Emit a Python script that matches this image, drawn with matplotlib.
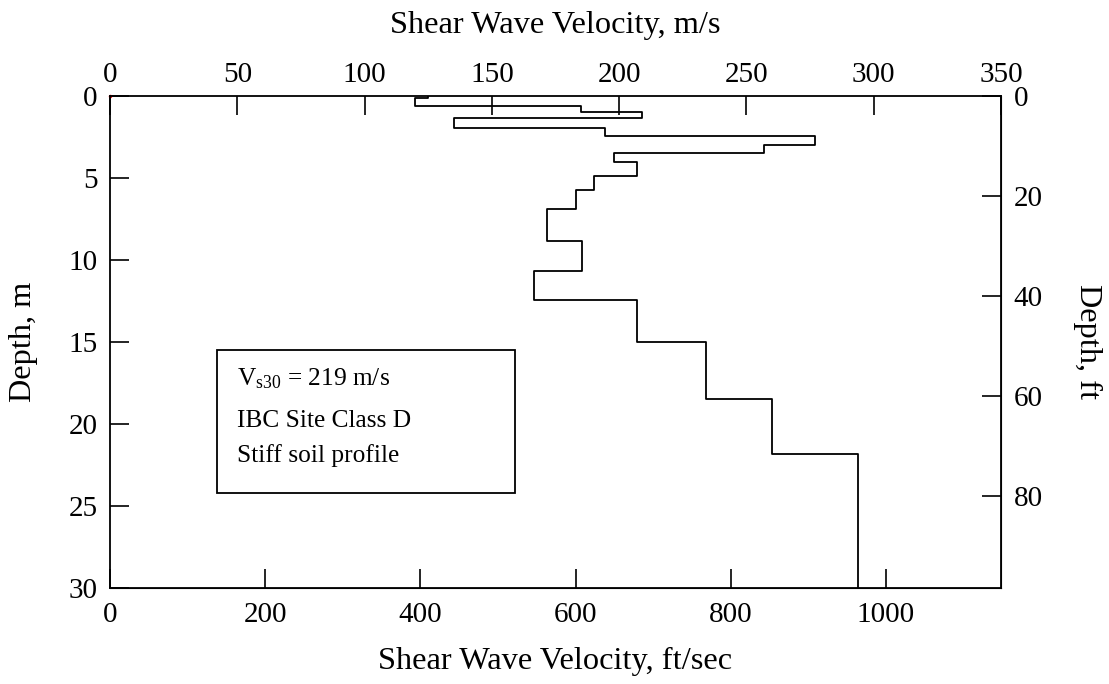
import numpy as np
import matplotlib
matplotlib.use('Agg')
import matplotlib.pyplot as plt
from matplotlib.patches import Rectangle

# layer velocities (m/s) and layer bottom depths (m), read from the profile
vs_ms = [125, 120, 185, 209, 135, 194.5, 277, 257, 198, 207, 190, 183,
         171.5, 185.5, 166.5, 207, 234, 260, 294]
depth_bottom = [0.14, 0.59, 0.95, 1.36, 1.95, 2.44, 2.99, 3.5, 4.03, 4.86,
                5.76, 6.89, 8.84, 10.67, 12.44, 15.0, 18.48, 21.8, 30]

top_ticks = [0, 50, 100, 150, 200, 250, 300, 350]
bottom_ticks = [0, 200, 400, 600, 800, 1000]
left_ticks = [0, 5, 10, 15, 20, 25, 30]
right_ticks = [0, 20, 40, 60, 80]
box_lines = [r'V$_{\rm s30}$ = 219 m/s', 'IBC Site Class D', 'Stiff soil profile']

M2FT = 3.28084

plt.rcParams['font.family'] = ['Liberation Serif', 'DejaVu Serif']
plt.rcParams['mathtext.fontset'] = 'custom'
plt.rcParams['mathtext.rm'] = 'Liberation Serif'
plt.rcParams['mathtext.it'] = 'Liberation Serif:italic'

fig = plt.figure(figsize=(11.09, 6.84), dpi=100)
ax = fig.add_axes([0.0992, 0.1404, 0.8034, 0.7192])

# build the step profile
depth_top = [0] + depth_bottom[:-1]
x = np.repeat(vs_ms, 2)
y = np.ravel(np.column_stack([depth_top, depth_bottom]))
ax.plot(x, y, color='black', lw=1.3)
ax.plot([0], [0], 'o', color='red', ms=1.5, clip_on=False)

ax.set_xlim(0, 350)
ax.set_ylim(30, 0)
ax.xaxis.tick_top()
ax.set_xticks(top_ticks)
ax.set_yticks(left_ticks)
ax.tick_params(direction='in', length=14, width=1.2, labelsize=21)
ax.tick_params(axis='x', pad=6)
ax.tick_params(axis='y', pad=9)
for s in ax.spines.values():
    s.set_linewidth(1.3)

lab_fs = 23.3
ax.set_xlabel('Shear Wave Velocity, m/s', fontsize=lab_fs)
ax.xaxis.set_label_position('top')
ax.xaxis.set_label_coords(0.5, 1.144)
ax.xaxis.label.set_va('center')
ax.set_ylabel('Depth, m', fontsize=lab_fs)
ax.yaxis.set_label_coords(-0.0976, 0.5)
ax.yaxis.label.set_va('center')

# secondary axes in feet
axb = ax.secondary_xaxis('bottom', functions=(lambda v: v * M2FT, lambda v: v / M2FT))
axb.set_xticks(bottom_ticks)
axb.tick_params(direction='in', length=14, width=1.2, labelsize=21, pad=10)
axb.set_xlabel('Shear Wave Velocity, ft/sec', fontsize=lab_fs)
axb.xaxis.set_label_coords(0.5, -0.150, transform=ax.transAxes)
axb.xaxis.label.set_va('center')

axr = ax.secondary_yaxis('right', functions=(lambda d: d * M2FT, lambda d: d / M2FT))
axr.set_yticks(right_ticks)
axr.tick_params(direction='in', length=14, width=1.2, labelsize=21, pad=9)
axr.set_ylabel('Depth, ft', fontsize=lab_fs, rotation=270)
axr.yaxis.set_label_coords(1.0976, 0.5, transform=ax.transAxes)
axr.yaxis.label.set_va('center')
axr.yaxis.label.set_ha('center')

# annotation box
ax.add_patch(Rectangle((0.120, 0.193), 0.3345, 0.2907, transform=ax.transAxes,
                       fill=False, ec='black', lw=1.3))
for txt, yy in zip(box_lines, [0.4126, 0.327, 0.256]):
    ax.text(0.1425, yy, txt, transform=ax.transAxes, fontsize=18.3, va='baseline')

fig.savefig('out.png', dpi=100)
